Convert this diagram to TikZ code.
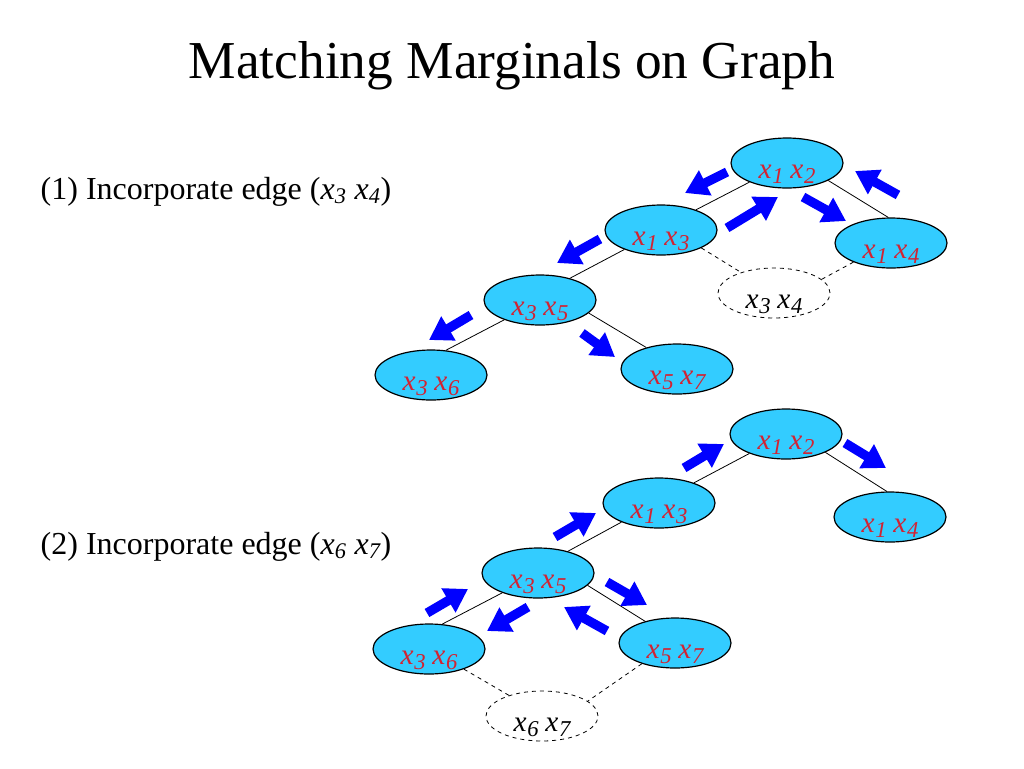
\documentclass[tikz,border=0pt]{standalone}
\usepackage{fontspec}
\setmainfont{Liberation Serif}
\usetikzlibrary{shapes.geometric,arrows.meta}
\definecolor{cliqueblue}{RGB}{51,204,255}
\definecolor{cliquered}{RGB}{210,35,50}
% clique variable: italic x with a large lowered subscript
\newcommand{\xv}[1]{\textit{x\kern0.5pt\raisebox{-4pt}{\fontsize{17}{20}\selectfont #1}}}
\newcommand{\xx}[2]{\xv{#1}\hspace{5pt}\xv{#2}}
\begin{document}
\begin{tikzpicture}[
        x={(0.75pt,0)}, y={(0,-0.75pt)},
        clique/.style={ellipse, draw, line width=0.9pt, fill=cliqueblue, minimum width=84pt, minimum height=37.5pt, inner sep=0pt, text height=24pt, text depth=1.5pt, text=cliquered, font=\fontsize{22}{26}\selectfont},
        newedge/.style={ellipse, draw, dashed, line width=0.6pt, minimum width=84pt, minimum height=37.5pt, inner sep=0pt, text height=24pt, text depth=1.5pt, font=\fontsize{22}{26}\selectfont},
        tree_edge/.style={draw, line width=0.6pt},
        new_link/.style={draw, dashed, line width=0.6pt},
        msg/.style={draw=blue, line width=7pt, -{Triangle[length=17pt, width=20pt]}, blue},
        step_label/.style={anchor=base west, font=\fontsize{24}{29}\selectfont}
    ]
        \useasboundingbox (0,0) rectangle (1024,768);
        \node[anchor=base, font=\fontsize{40}{48}\selectfont] (title) at (512,78) {Matching Marginals on Graph};

        % Step 1: incorporate edge (x3 x4)
        \node[step_label] (step1) at (36,199) {(1) Incorporate edge (\textit{x\textsubscript{3} x\textsubscript{4}})};
        \node[clique] (t1_x12) at (787,163) {\xx{1}{2}};
        \node[clique] (t1_x13) at (661,230) {\xx{1}{3}};
        \node[clique] (t1_x14) at (891,243) {\xx{1}{4}};
        \node[newedge] (t1_x34) at (774,293) {\xx{3}{4}};
        \node[clique] (t1_x35) at (540,300) {\xx{3}{5}};
        \node[clique] (t1_x36) at (431,375) {\xx{3}{6}};
        \node[clique] (t1_x57) at (677,369) {\xx{5}{7}};
        \draw[tree_edge] (t1_x12.-153) -- (t1_x13.30);
        \draw[tree_edge] (t1_x12.-23) -- (t1_x14.96);
        \draw[tree_edge] (t1_x13.-152) -- (t1_x35.36);
        \draw[tree_edge] (t1_x35.-151) -- (t1_x36.59);
        \draw[tree_edge] (t1_x35.-15) -- (t1_x57.145);
        \draw[new_link] (t1_x13.-24) -- (t1_x34.148);
        \draw[new_link] (t1_x14.-153) -- (t1_x34.16);
        % messages
        \draw[msg] (727,172) -- (685,193);
        \draw[msg] (727,228) -- (778,197);
        \draw[msg] (803,197) -- (846,221);
        \draw[msg] (898,195) -- (855,171);
        \draw[msg] (600,239) -- (557,263);
        \draw[msg] (471,315) -- (429,340);
        \draw[msg] (582,333) -- (615,357);

        % Step 2: incorporate edge (x6 x7)
        \node[step_label] (step2) at (36,554) {(2) Incorporate edge (\textit{x\textsubscript{6} x\textsubscript{7}})};
        \node[clique] (t2_x12) at (786,434) {\xx{1}{2}};
        \node[clique] (t2_x13) at (659,503) {\xx{1}{3}};
        \node[clique] (t2_x14) at (890,517) {\xx{1}{4}};
        \node[clique] (t2_x35) at (538,573) {\xx{3}{5}};
        \node[clique] (t2_x36) at (429,649) {\xx{3}{6}};
        \node[clique] (t2_x57) at (675,643) {\xx{5}{7}};
        \node[newedge] (t2_x67) at (542,716) {\xx{6}{7}};
        \draw[tree_edge] (t2_x12.-152) -- (t2_x13.30);
        \draw[tree_edge] (t2_x12.-25) -- (t2_x14.97);
        \draw[tree_edge] (t2_x13.-153) -- (t2_x35.36);
        \draw[tree_edge] (t2_x35.-151) -- (t2_x36.62);
        \draw[tree_edge] (t2_x35.-14) -- (t2_x57.144);
        \draw[new_link] (t2_x36.-30) -- (t2_x67.148);
        \draw[new_link] (t2_x57.-148) -- (t2_x67.18);
        % messages
        \draw[msg] (684,468) -- (724,444);
        \draw[msg] (845,443) -- (886,468);
        \draw[msg] (555,537) -- (596,513);
        \draw[msg] (607,582) -- (647,605);
        \draw[msg] (427,613) -- (468,589);
        \draw[msg] (528,607) -- (487,631);
        \draw[msg] (607,631) -- (564,607);
    \end{tikzpicture}
\end{document}
